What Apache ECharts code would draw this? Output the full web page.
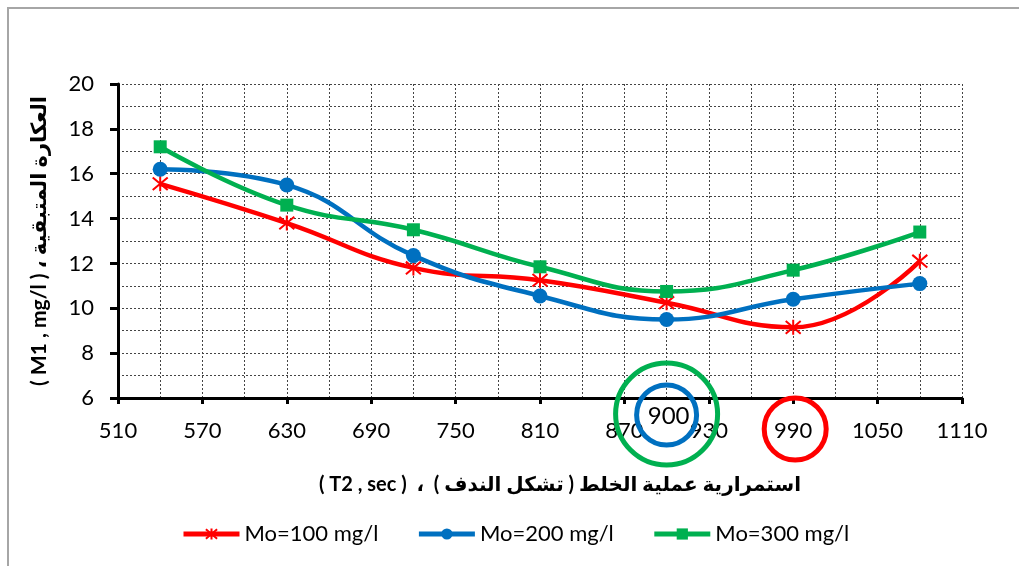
<!DOCTYPE html>
<html>
<head>
<meta charset="utf-8">
<script src="https://cdn.jsdelivr.net/npm/echarts@6/dist/echarts.min.js"></script>
<style>
    html, body { margin: 0; padding: 0; background: #fff; }
    #chart { width: 1019px; height: 566px; }
</style>
</head>
<body>
<div id="chart"></div>
<script>
// mixing time T2 (sec) and residual turbidity M1 (mg/l)
const xValues = [540, 630, 720, 810, 900, 990, 1080];
const mo100 = [15.55, 13.8, 11.8, 11.25, 10.25, 9.15, 12.1];
const mo200 = [16.2, 15.5, 12.35, 10.55, 9.5, 10.4, 11.1];
const mo300 = [17.2, 14.6, 13.5, 11.85, 10.75, 11.7, 13.4];
const seriesNames = ['Mo=100 mg/l', 'Mo=200 mg/l', 'Mo=300 mg/l'];

const font = "Lato, 'DejaVu Sans', sans-serif";
const starPath = 'path://M5,0L5,10M0.8,0.8L9.2,9.2M0.8,9.2L9.2,0.8';

const pairs = arr => xValues.map((x, i) => [x, arr[i]]);

const chart = echarts.init(document.getElementById('chart'));

const gridLine = { show: true, lineStyle: { color: '#444', type: [2, 2], width: 1 } };

chart.setOption({
    animation: false,
    textStyle: { fontFamily: font },
    grid: { left: 118, right: 57, top: 84, bottom: 168 },
    legend: {
        left: 176,
        top: 518,
        itemWidth: 56,
        itemHeight: 14,
        itemGap: 38,
        lineStyle: { width: 5 },
        textStyle: { fontSize: 22, color: '#000', fontFamily: font },
        data: seriesNames
    },
    xAxis: {
        type: 'value',
        min: 510,
        max: 1110,
        interval: 60,
        name: '\u202Bاستمرارية عملية الخلط ( تشكل الندف )  ،  ( T2 , sec )\u202C',
        nameLocation: 'middle',
        nameGap: 77,
        nameTextStyle: { fontSize: 20, fontWeight: 'bold', color: '#000', padding: [0, 0, 0, 40] },
        axisLine: { lineStyle: { color: '#000', width: 3 } },
        axisTick: { show: true, length: 6, lineStyle: { color: '#000', width: 3 } },
        axisLabel: { fontSize: 22, color: '#000', margin: 22, formatter: v => String(v) },
        splitLine: gridLine,
        minorTick: { show: false, splitNumber: 2 },
        minorSplitLine: gridLine
    },
    yAxis: {
        type: 'value',
        min: 6,
        max: 20,
        interval: 2,
        name: '\u202Bالعكارة المتبقية ، ( M1 , mg/l )\u202C',
        nameLocation: 'middle',
        nameGap: 68,
        nameTextStyle: { fontSize: 21, fontWeight: 'bold', color: '#000' },
        axisLine: { show: true, lineStyle: { color: '#000', width: 3 } },
        axisTick: { show: true, length: 8, lineStyle: { color: '#000', width: 3 } },
        axisLabel: { fontSize: 22, color: '#000', margin: 24 },
        splitLine: gridLine,
        minorTick: { show: false, splitNumber: 2 },
        minorSplitLine: gridLine
    },
    series: [
        {
            name: seriesNames[0],
            type: 'line',
            smooth: 0.45,
            data: pairs(mo100),
            symbol: starPath,
            symbolSize: 15,
            lineStyle: { color: '#FF0000', width: 4.5 },
            itemStyle: { color: '#FF0000', borderColor: '#FF0000', borderWidth: 2 },
            z: 3
        },
        {
            name: seriesNames[1],
            type: 'line',
            smooth: 0.45,
            data: pairs(mo200),
            symbol: 'circle',
            symbolSize: 15,
            lineStyle: { color: '#0070C0', width: 4.5 },
            itemStyle: { color: '#0070C0', borderWidth: 0 },
            z: 4
        },
        {
            name: seriesNames[2],
            type: 'line',
            smooth: 0.45,
            data: pairs(mo300),
            symbol: 'rect',
            symbolSize: 13,
            lineStyle: { color: '#00B050', width: 4.5 },
            itemStyle: { color: '#00B050', borderWidth: 0 },
            z: 5
        }
    ]
});

// annotation circles around 900 and 990 under the axis
const p900 = chart.convertToPixel({ xAxisIndex: 0, yAxisIndex: 0 }, [900, 6]);
const p990 = chart.convertToPixel({ xAxisIndex: 0, yAxisIndex: 0 }, [990, 6]);

chart.setOption({
    graphic: [
        {
            type: 'rect',
            shape: { x: 8, y: 8, width: 1040, height: 600 },
            style: { fill: 'none', stroke: '#a6a6a6', lineWidth: 2 },
            silent: true
        },
        {
            type: 'circle',
            shape: { cx: p900[0], cy: p900[1] + 16, r: 51 },
            style: { fill: 'none', stroke: '#00B050', lineWidth: 5 },
            z: 10
        },
        {
            type: 'circle',
            shape: { cx: p900[0], cy: p900[1] + 17, r: 30 },
            style: { fill: 'none', stroke: '#0070C0', lineWidth: 5 },
            z: 11
        },
        {
            type: 'text',
            x: p900[0] + 2,
            y: p900[1] + 18,
            style: {
                text: '900', fontSize: 24, fontFamily: font, fill: '#000',
                align: 'center', verticalAlign: 'middle'
            },
            z: 12
        },
        {
            type: 'circle',
            shape: { cx: p990[0] + 2, cy: p990[1] + 31, r: 31 },
            style: { fill: 'none', stroke: '#FF0000', lineWidth: 5 },
            z: 10
        }
    ]
});
</script>
</body>
</html>
